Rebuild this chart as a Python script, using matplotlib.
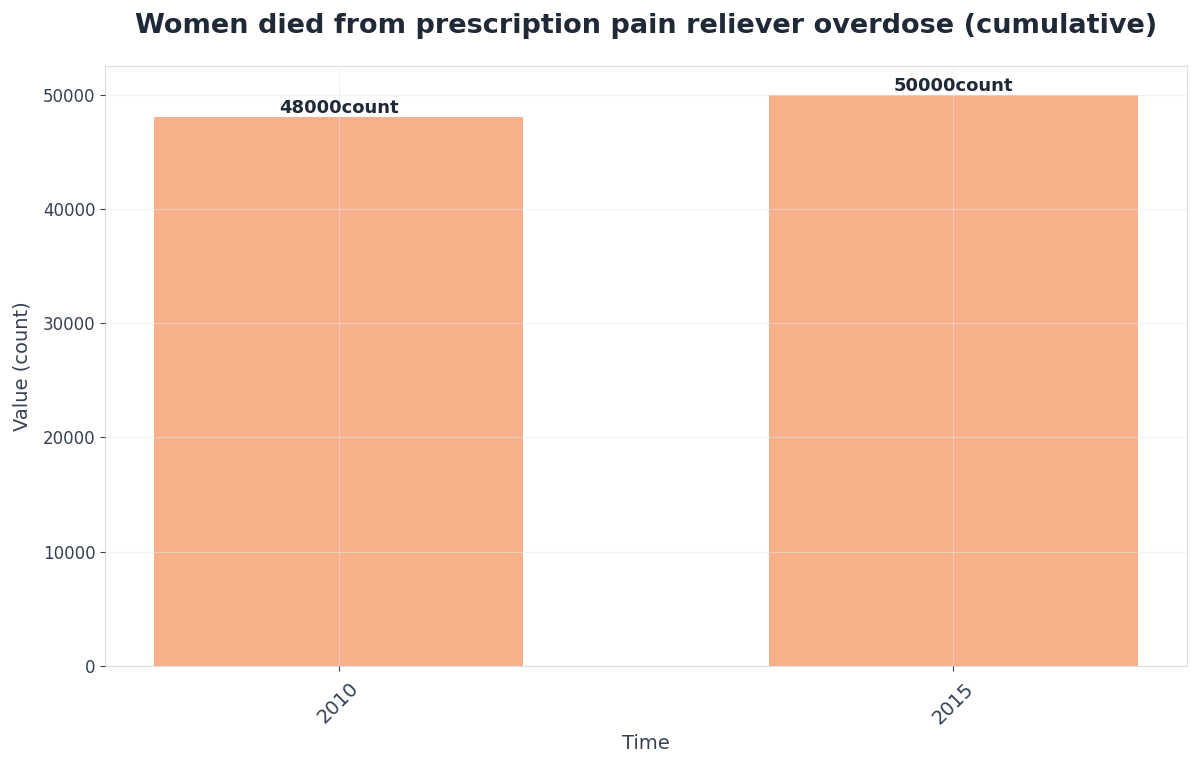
import matplotlib.pyplot as plt

years = ["2010", "2015"]
values = [48000, 50000]
unit = "count"

fig, ax = plt.subplots(figsize=(12, 7.68), dpi=100)
fig.subplots_adjust(left=0.0875, right=0.989, top=0.914, bottom=0.133)

x = range(len(years))
bars = ax.bar(x, values, width=0.6, color="#f7b08a", zorder=1)

for b, v in zip(bars, values):
    ax.text(b.get_x() + b.get_width() / 2, v, f"{v}{unit}", ha="center", va="bottom",
            fontsize=13, fontweight="bold", color="#1f2937")

ax.set_xticks(list(x))
ax.set_xticklabels(years, rotation=45, fontsize=14, color="#374151")
ax.tick_params(axis="y", labelsize=12, labelcolor="#374151", color="#374151")
ax.tick_params(axis="x", color="#374151", pad=6)

ax.grid(True, color="#e5e7eb", alpha=0.5, linewidth=0.8)
ax.set_axisbelow(False)
for s in ax.spines.values():
    s.set_color("#d9dee5")

ax.set_title("Women died from prescription pain reliever overdose (cumulative)",
             fontsize=19.5, fontweight="bold", color="#1f2937", pad=24)
ax.set_xlabel("Time", fontsize=14, color="#374151", labelpad=5)
ax.set_ylabel("Value (count)", fontsize=14, color="#374151", labelpad=8)

plt.savefig("out.png")
